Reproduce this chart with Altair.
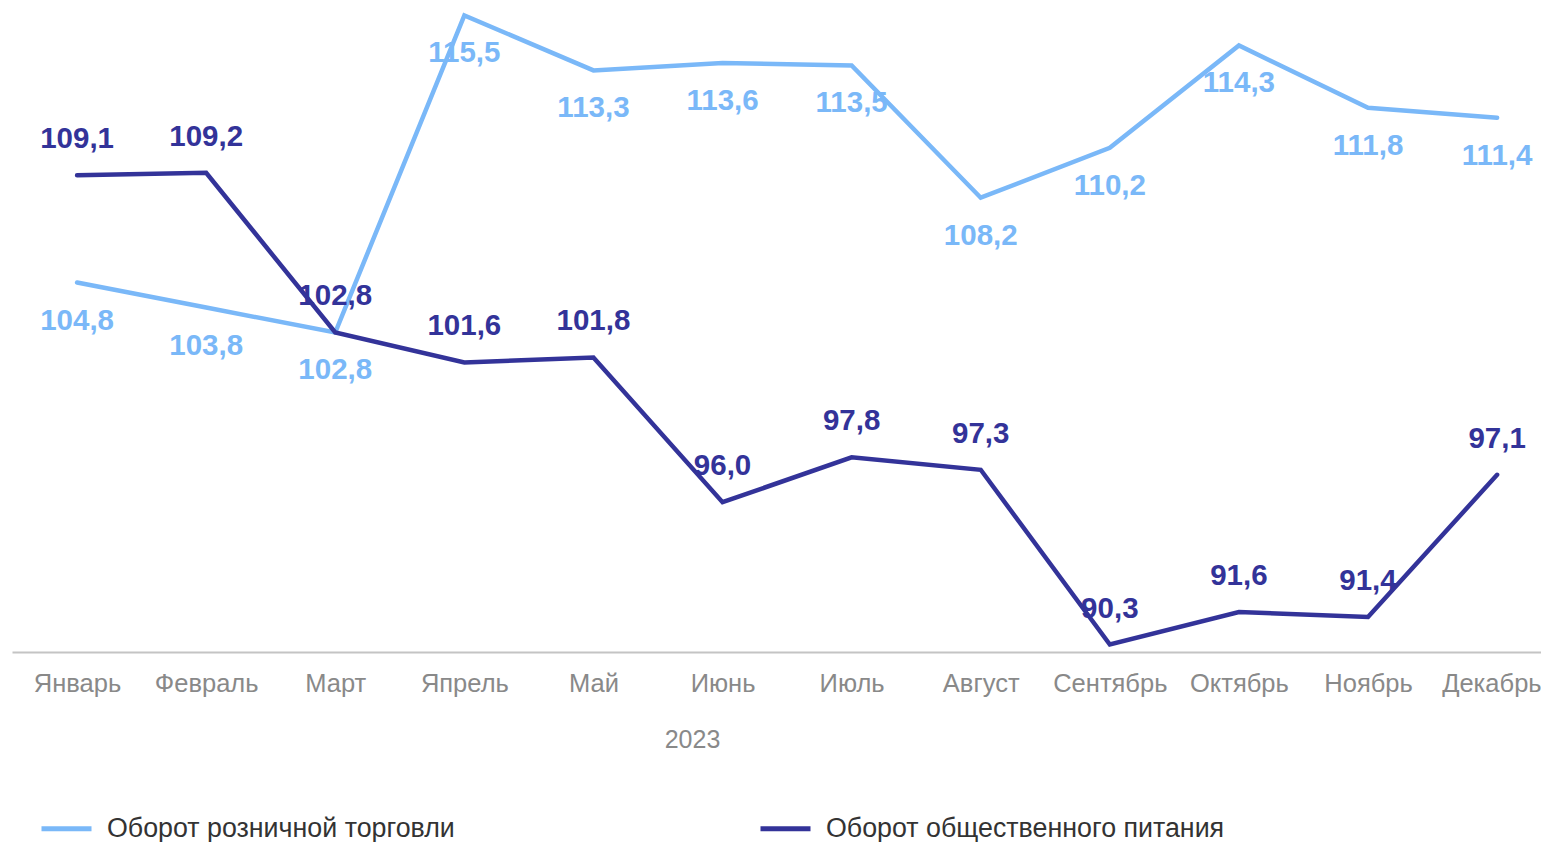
import json
import altair as alt
import pandas as pd

months = ["Январь", "Февраль", "Март", "Япрель", "Май", "Июнь", "Июль",
          "Август", "Сентябрь", "Октябрь", "Ноябрь", "Декабрь"]
retail = [104.8, 103.8, 102.8, 115.5, 113.3, 113.6, 113.5, 108.2, 110.2, 114.3, 111.8, 111.4]
catering = [109.1, 109.2, 102.8, 101.6, 101.8, 96.0, 97.8, 97.3, 90.3, 91.6, 91.4, 97.1]
series_names = ["Оборот розничной торговли", "Оборот общественного питания"]
series_colors = ["#7ab8f8", "#333399"]
x_title = "2023"

rows = []
for name, vals in zip(series_names, [retail, catering]):
    for i, v in enumerate(vals):
        rows.append({"idx": i, "month": months[i], "value": v, "series": name,
                     "label": f"{v:.1f}".replace(".", ",")})
df = pd.DataFrame(rows)

FONT = "Liberation Sans"
label_expr = json.dumps(months, ensure_ascii=False) + "[datum.value]"

x = alt.X("idx:Q",
          scale=alt.Scale(domain=[-0.504, 11.34], nice=False, zero=False),
          axis=alt.Axis(values=list(range(12)), labelExpr=label_expr, title=x_title,
                        grid=False, ticks=False, domainColor="#c4c4c4", domainWidth=2,
                        labelColor="#898989", labelFontSize=25.5, labelFont=FONT,
                        labelPadding=19, labelFlush=50, labelFlushOffset=44,
                        labelOverlap=False,
                        titleColor="#898989", titleFontSize=25, titleFont=FONT,
                        titleFontWeight="normal", titlePadding=31, titleX=680))
y = alt.Y("value:Q", scale=alt.Scale(domain=[90, 115.8], nice=False, zero=False),
          axis=None)
color_scale = alt.Scale(domain=series_names, range=series_colors)

base = alt.Chart(df)
lines = base.mark_line(strokeWidth=4.5, strokeCap="round", strokeJoin="miter").encode(
    x=x, y=y,
    color=alt.Color("series:N", scale=color_scale, sort=series_names,
                    legend=alt.Legend(title=None, orient="none", legendX=27, legendY=793,
                                      direction="horizontal", symbolType="stroke",
                                      symbolSize=2500, symbolStrokeWidth=5,
                                      labelFontSize=26.8, labelFont=FONT, labelColor="#333333",
                                      labelOffset=13, columnPadding=295, labelLimit=600)),
)
lab_retail = base.transform_filter(alt.datum.series == series_names[0]).mark_text(
    dy=38, fontSize=29.5, fontWeight="bold", font=FONT).encode(
    x=x, y=y, text="label:N",
    color=alt.Color("series:N", scale=color_scale, legend=None))
lab_cat = base.transform_filter(alt.datum.series == series_names[1]).mark_text(
    dy=-36, fontSize=29.5, fontWeight="bold", font=FONT).encode(
    x=x, y=y, text="label:N",
    color=alt.Color("series:N", scale=color_scale, legend=None))

chart = alt.layer(lines, lab_retail, lab_cat).properties(
    width=1529, height=644,
    autosize=alt.AutoSizeParams(type="none"),
    padding={"left": 4, "top": 0, "right": 0, "bottom": 190},
).configure_view(stroke=None)

chart.save("out.html", embed_options={"renderer": "svg", "actions": False})
